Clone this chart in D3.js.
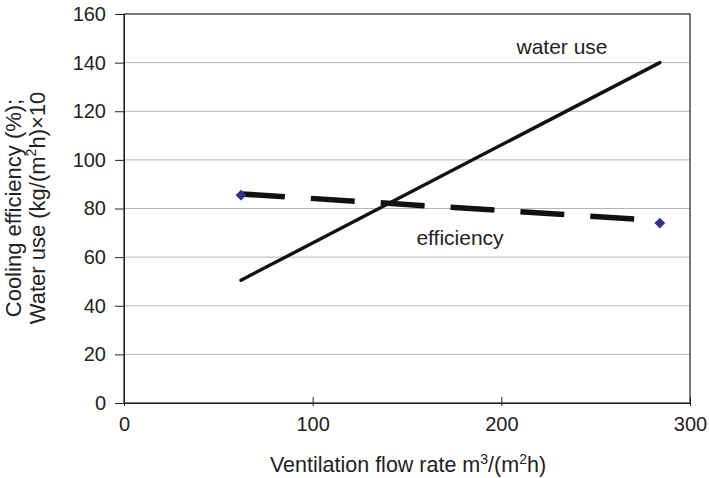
<!DOCTYPE html>
<html><head><meta charset="utf-8">
<script src="https://cdn.jsdelivr.net/npm/d3@7"></script>
<style>body{margin:0;background:#fff}svg{display:block;font-family:"Liberation Sans",Arial,Helvetica,sans-serif}</style>
</head><body><svg id="c" width="709" height="478"></svg>
<script>
const xTicks = [0, 100, 200, 300];
const yTicks = [0, 20, 40, 60, 80, 100, 120, 140, 160];
const waterX = [62, 284];
const waterY = [50.5, 140];
const effX = [62, 284];
const effY = [85.5, 74];
const effLineY = [86, 75];

const FS = 20;
const svg = d3.select("#c");
const m = {l:124, r:690, t:14, b:403};
const x = d3.scaleLinear().domain([0,300]).range([m.l, m.r]);
const y = d3.scaleLinear().domain([0,160]).range([m.b, m.t]);

// gridlines
svg.append("g").selectAll("line").data(yTicks.filter(d=>d>0 && d<160)).join("line")
  .attr("x1", m.l).attr("x2", m.r).attr("y1", d=>y(d)).attr("y2", d=>y(d))
  .attr("stroke", "#b4b4b4").attr("stroke-width", 1);

// frame
svg.append("rect").attr("x", m.l).attr("y", m.t).attr("width", m.r-m.l).attr("height", m.b-m.t)
  .attr("fill","none").attr("stroke","#222").attr("stroke-width",1.2);

// y axis
const ya = d3.axisLeft(y).tickValues(yTicks).tickSize(9).tickPadding(9);
const gy = svg.append("g").attr("transform", `translate(${m.l},0)`).call(ya);
gy.select(".domain").attr("stroke","#222");
gy.selectAll(".tick line").attr("stroke","#222");
gy.selectAll(".tick text").attr("font-size",FS).attr("fill","#222").attr("font-family","Liberation Sans, Arial, sans-serif");

// x axis
const xa = d3.axisBottom(x).tickValues(xTicks).tickSize(3).tickPadding(11);
const gx = svg.append("g").attr("transform", `translate(0,${m.b})`).call(xa);
gx.select(".domain").attr("stroke","#222");
gx.selectAll(".tick line").attr("stroke","#222").attr("y1",-6).attr("y2",3);
gx.selectAll(".tick text").attr("font-size",FS).attr("fill","#222").attr("font-family","Liberation Sans, Arial, sans-serif");

// water use line
const line = d3.line().x(d=>x(d[0])).y(d=>y(d[1]));
svg.append("path").datum(waterX.map((v,i)=>[v, waterY[i]]))
  .attr("d", line).attr("fill","none").attr("stroke","#111").attr("stroke-width",3.4).attr("stroke-linecap","round");

// efficiency dashed line
svg.append("path").datum(effX.map((v,i)=>[v, effLineY[i]]))
  .attr("d", line).attr("fill","none").attr("stroke","#111").attr("stroke-width",5.5)
  .attr("stroke-dasharray","44 26");

// markers
svg.append("g").selectAll("path").data(effX.map((v,i)=>[v, effY[i]])).join("path")
  .attr("d", d3.symbol().type(d3.symbolDiamond2).size(75))
  .attr("transform", d=>`translate(${x(d[0])},${y(d[1])})`)
  .attr("fill","#33308f");

// labels
svg.append("text").attr("x",562).attr("y",54).attr("text-anchor","middle").attr("font-size",21).attr("fill","#222").text("water use");
svg.append("text").attr("x",460).attr("y",245).attr("text-anchor","middle").attr("font-size",21).attr("fill","#222").text("efficiency");

// x title
const xt = svg.append("text").attr("x",408).attr("y",472).attr("text-anchor","middle").attr("font-size",21.5).attr("fill","#222");
xt.append("tspan").text("Ventilation flow rate m");
xt.append("tspan").attr("font-size",14).attr("dy",-8).text("3");
xt.append("tspan").attr("dy",8).text("/(m");
xt.append("tspan").attr("font-size",14).attr("dy",-8).text("2");
xt.append("tspan").attr("dy",8).text("h)");

// y title
const yt = svg.append("g").attr("transform","translate(21,208) rotate(-90)");
yt.append("text").attr("x",0).attr("y",0).attr("text-anchor","middle").attr("font-size",22).attr("fill","#222").text("Cooling efficiency (%);");
const y2 = yt.append("text").attr("x",0).attr("y",24).attr("text-anchor","middle").attr("font-size",22).attr("fill","#222");
y2.append("tspan").text("Water use (kg/(m");
y2.append("tspan").attr("font-size",14).attr("dy",-9).text("2");
y2.append("tspan").attr("dy",9).text("h)×10");
</script></body></html>
